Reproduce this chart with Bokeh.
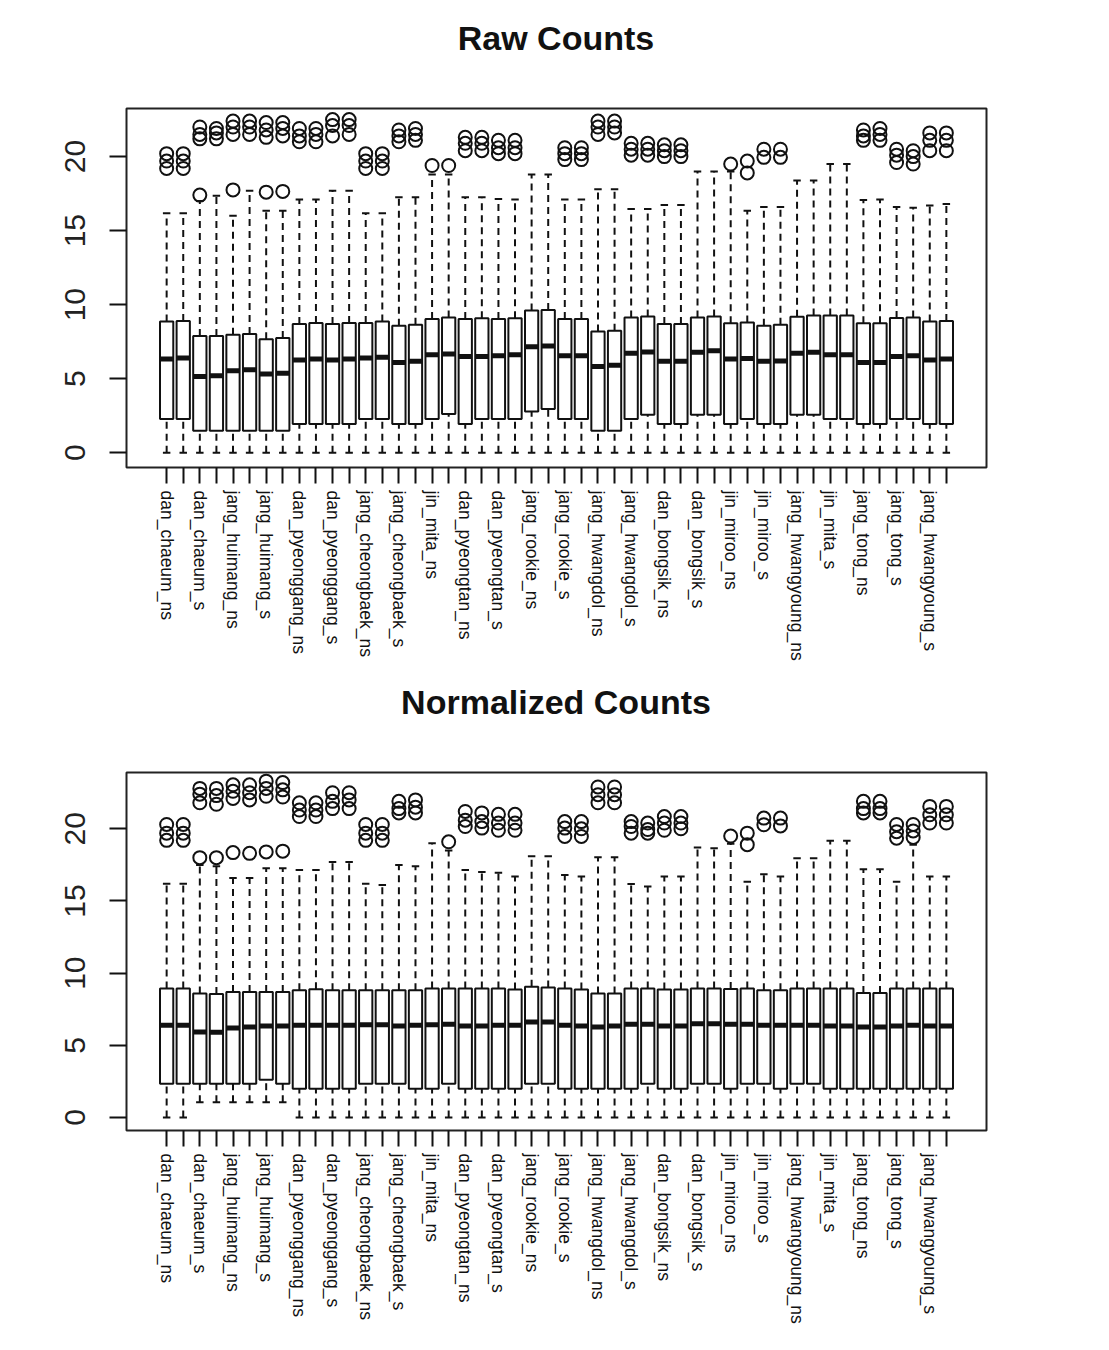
import math
from bokeh.plotting import figure
from bokeh.models import Range1d, FixedTicker, Div
from bokeh.layouts import column
from bokeh.embed import file_html
from bokeh.resources import INLINE

# ---------------- data ----------------
sample_labels = [
    "dan_chaeum_ns", "dan_chaeum_s", "jang_huimang_ns", "jang_huimang_s",
    "dan_pyeonggang_ns", "dan_pyeonggang_s", "jang_cheongbaek_ns", "jang_cheongbaek_s",
    "jin_mita_ns", "dan_pyeongtan_ns", "dan_pyeongtan_s", "jang_rookie_ns",
    "jang_rookie_s", "jang_hwangdol_ns", "jang_hwangdol_s", "dan_bongsik_ns",
    "dan_bongsik_s", "jin_miroo_ns", "jin_miroo_s", "jang_hwangyoung_ns",
    "jin_mita_s", "jang_tong_ns", "jang_tong_s", "jang_hwangyoung_s",
]
box_positions = list(range(1, 49))
y_ticks = [0, 5, 10, 15, 20]

raw_lower = [0] * 48
raw_q1 = [2.28, 2.28, 1.49, 1.49, 1.49, 1.49, 1.49, 1.49, 1.94, 1.94, 1.94, 1.94,
          2.28, 2.28, 1.94, 1.94, 2.28, 2.61, 1.94, 2.28, 2.28, 2.28, 2.79, 2.95,
          2.28, 2.28, 1.49, 1.49, 2.28, 2.57, 1.94, 1.94, 2.57, 2.57, 1.94, 2.28,
          1.94, 1.94, 2.57, 2.57, 2.28, 2.28, 1.94, 1.94, 2.28, 2.28, 1.94, 1.94]
raw_median = [6.33, 6.40, 5.14, 5.20, 5.54, 5.60, 5.32, 5.36, 6.26, 6.33, 6.26, 6.33,
              6.40, 6.44, 6.10, 6.17, 6.62, 6.67, 6.49, 6.49, 6.55, 6.62, 7.16, 7.20,
              6.55, 6.55, 5.83, 5.90, 6.71, 6.80, 6.17, 6.17, 6.78, 6.89, 6.33, 6.37,
              6.17, 6.20, 6.71, 6.78, 6.62, 6.62, 6.10, 6.10, 6.49, 6.55, 6.26, 6.33]
raw_q3 = [8.87, 8.90, 7.88, 7.88, 7.97, 8.02, 7.66, 7.75, 8.69, 8.76, 8.69, 8.76,
          8.76, 8.87, 8.58, 8.65, 9.03, 9.14, 9.03, 9.08, 9.03, 9.08, 9.60, 9.64,
          9.03, 9.03, 8.18, 8.24, 9.14, 9.20, 8.69, 8.69, 9.14, 9.20, 8.74, 8.80,
          8.58, 8.65, 9.19, 9.26, 9.26, 9.26, 8.74, 8.74, 9.10, 9.14, 8.87, 8.90]
raw_upper = [16.17, 16.17, 17.0, 17.36, 16.0, 17.7, 16.35, 16.35, 17.1, 17.1, 17.7, 17.7,
             16.17, 16.17, 17.25, 17.25, 18.8, 18.8, 17.25, 17.25, 17.14, 17.1, 18.8, 18.8,
             17.1, 17.1, 17.8, 17.8, 16.46, 16.46, 16.73, 16.73, 19.0, 19.0, 19.0, 16.35,
             16.6, 16.6, 18.38, 18.38, 19.5, 19.5, 17.07, 17.1, 16.6, 16.55, 16.7, 16.8]
raw_outliers = [
    [20.2, 19.7, 19.2], [20.2, 19.7, 19.2], [17.4, 22.0, 21.5, 21.2], [21.9, 21.6, 21.2],
    [17.75, 22.4, 22.0, 21.5], [22.4, 22.0, 21.5], [17.6, 22.3, 21.8, 21.3], [17.65, 22.3, 21.9, 21.4],
    [21.9, 21.4, 21.0], [21.9, 21.5, 21.0], [22.5, 22.1, 21.4], [22.5, 22.1, 21.5],
    [20.2, 19.7, 19.2], [20.2, 19.7, 19.2], [21.8, 21.4, 21.0], [21.9, 21.5, 21.1],
    [19.4], [19.4], [21.3, 20.9, 20.4], [21.3, 20.9, 20.4],
    [21.1, 20.6, 20.2], [21.1, 20.6, 20.2], [], [],
    [20.6, 20.2, 19.8], [20.6, 20.2, 19.8], [22.4, 22.0, 21.5], [22.4, 22.0, 21.6],
    [20.9, 20.5, 20.1], [20.9, 20.5, 20.1], [20.8, 20.4, 20.0], [20.8, 20.4, 20.0],
    [], [], [19.5], [19.7, 18.9],
    [20.5, 19.95], [20.5, 19.95], [], [],
    [], [], [21.8, 21.4, 21.1], [21.9, 21.5, 21.1],
    [20.5, 20.1, 19.6], [20.4, 20.0, 19.5], [21.6, 21.1, 20.4], [21.6, 21.1, 20.4],
]

norm_lower = [0, 0, 1.06, 1.06, 1.06, 1.06, 1.06, 1.06] + [0] * 40
norm_q1 = [2.34, 2.34, 2.34, 2.34, 2.34, 2.34, 2.62, 2.34, 1.99, 1.99, 1.99, 1.99,
           2.34, 2.34, 2.34, 1.99, 1.99, 2.34, 1.99, 1.99, 1.99, 1.99, 2.34, 2.34,
           1.99, 1.99, 1.99, 1.99, 1.99, 2.34, 1.99, 1.99, 2.34, 2.34, 1.99, 2.34,
           2.34, 1.99, 2.34, 2.34, 1.99, 1.99, 1.99, 1.99, 1.99, 1.99, 1.99, 1.99]
norm_median = [6.39, 6.39, 5.92, 5.90, 6.20, 6.27, 6.34, 6.34, 6.39, 6.39, 6.39, 6.39,
               6.43, 6.43, 6.34, 6.39, 6.43, 6.46, 6.34, 6.34, 6.39, 6.39, 6.62, 6.62,
               6.39, 6.34, 6.27, 6.34, 6.46, 6.46, 6.34, 6.34, 6.50, 6.50, 6.46, 6.46,
               6.39, 6.39, 6.39, 6.39, 6.34, 6.34, 6.27, 6.27, 6.34, 6.39, 6.34, 6.34]
norm_q3 = [8.94, 8.94, 8.59, 8.55, 8.70, 8.70, 8.70, 8.70, 8.82, 8.89, 8.82, 8.82,
           8.82, 8.82, 8.82, 8.82, 8.94, 8.94, 8.94, 8.94, 8.94, 8.87, 9.05, 9.00,
           8.94, 8.87, 8.59, 8.59, 8.94, 8.94, 8.87, 8.87, 8.94, 8.94, 8.90, 8.94,
           8.82, 8.82, 8.94, 8.94, 8.94, 8.94, 8.63, 8.63, 8.94, 8.94, 8.94, 8.94]
norm_upper = [16.2, 16.2, 17.5, 17.4, 16.6, 16.6, 17.27, 17.27, 17.15, 17.15, 17.7, 17.7,
              16.2, 16.1, 17.5, 17.4, 19.0, 18.5, 17.15, 17.0, 16.95, 16.7, 18.1, 18.1,
              16.8, 16.7, 18.03, 18.03, 16.18, 16.0, 16.7, 16.7, 18.7, 18.65, 18.96, 16.34,
              16.85, 16.7, 17.96, 17.96, 19.17, 19.17, 17.2, 17.2, 16.34, 18.9, 16.7, 16.7]
norm_outliers = [
    [20.3, 19.7, 19.2], [20.3, 19.7, 19.2], [18.0, 22.8, 22.4, 21.8], [18.0, 22.8, 22.3, 21.7],
    [18.35, 23.05, 22.6, 22.1], [18.3, 23.05, 22.5, 22.0], [18.4, 23.3, 22.8, 22.25], [18.45, 23.2, 22.7, 22.2],
    [21.8, 21.3, 20.85], [21.8, 21.3, 20.85], [22.5, 21.9, 21.4], [22.5, 22.0, 21.4],
    [20.3, 19.7, 19.2], [20.3, 19.7, 19.2], [21.9, 21.4, 21.1], [22.0, 21.5, 21.1],
    [], [19.1], [21.2, 20.6, 20.16], [21.1, 20.5, 20.05],
    [21.0, 20.4, 19.9], [21.0, 20.4, 19.9], [], [],
    [20.5, 20.05, 19.47], [20.5, 20.0, 19.47], [22.9, 22.36, 21.8], [22.9, 22.36, 21.8],
    [20.5, 20.16, 19.7], [20.4, 19.95, 19.7], [20.85, 20.4, 19.9], [20.85, 20.4, 20.0],
    [], [], [19.5], [19.7, 18.9],
    [20.74, 20.28], [20.74, 20.2], [], [],
    [], [], [21.9, 21.4, 21.1], [21.9, 21.4, 21.1],
    [20.3, 19.8, 19.35], [20.3, 19.85, 19.4], [21.55, 20.97, 20.4], [21.55, 20.97, 20.4],
]

# ---------------- drawing ----------------
BOX_W = 0.8
CAP_W = 0.45
FONT = "Liberation Sans"
FIG_W = 1101


def make_title(text):
    html = ('<div style="font-family: \'Liberation Sans\', Arial, sans-serif; '
            'font-weight: bold; font-size: 34px; color: #111111; text-align: center; '
            'width: %dpx; padding-top: 18px; padding-left: 11px; box-sizing: border-box; '
            'line-height: 40px; white-space: nowrap;">%s</div>' % (FIG_W, text))
    return Div(text=html, width=FIG_W, height=68, margin=0)


def make_plot(lower, q1, med, q3, upper, outliers, y_rng, height, border_bottom):
    p = figure(width=FIG_W, height=height,
               x_range=Range1d(-1.42, 50.42), y_range=Range1d(*y_rng),
               output_backend="svg", toolbar_location=None,
               min_border_left=126, min_border_right=115,
               min_border_top=40, min_border_bottom=border_bottom)
    p.background_fill_color = "white"
    p.border_fill_color = "white"
    p.outline_line_color = "#222222"
    p.outline_line_width = 2
    p.xgrid.visible = False
    p.ygrid.visible = False

    x = box_positions
    # whiskers (dashed)
    p.segment(x0=x, y0=q3, x1=x, y1=upper, line_color="#111111", line_width=2, line_dash="7 5")
    p.segment(x0=x, y0=lower, x1=x, y1=q1, line_color="#111111", line_width=2, line_dash="7 5")
    # staples
    xl = [v - CAP_W / 2 for v in x]
    xr = [v + CAP_W / 2 for v in x]
    p.segment(x0=xl, y0=upper, x1=xr, y1=upper, line_color="#111111", line_width=2)
    p.segment(x0=xl, y0=lower, x1=xr, y1=lower, line_color="#111111", line_width=2)
    # boxes
    p.vbar(x=x, bottom=q1, top=q3, width=BOX_W, fill_color="white",
           line_color="#111111", line_width=2)
    # medians
    ml = [v - BOX_W / 2 for v in x]
    mr = [v + BOX_W / 2 for v in x]
    p.segment(x0=ml, y0=med, x1=mr, y1=med, line_color="#111111", line_width=5)
    # outliers
    ox, oy = [], []
    for xi, vals in zip(x, outliers):
        for v in vals:
            ox.append(xi)
            oy.append(v)
    p.scatter(ox, oy, marker="circle", size=13, fill_color=None,
              line_color="#111111", line_width=2)

    # x axis
    xa = p.xaxis[0]
    xa.ticker = FixedTicker(ticks=box_positions)
    xa.major_label_overrides = {
        pos: (sample_labels[(pos - 1) // 2] if pos % 2 == 1 else "") for pos in box_positions
    }
    xa.major_label_orientation = -math.pi / 2
    xa.major_label_text_font = FONT
    xa.major_label_text_font_size = "17.5px"
    xa.major_label_text_color = "#111111"
    xa.major_label_standoff = 7
    xa.major_tick_out = 16
    xa.major_tick_in = 0
    xa.major_tick_line_width = 2
    xa.major_tick_line_color = "#111111"
    xa.minor_tick_line_color = None
    xa.axis_line_color = None

    ya = p.yaxis[0]
    ya.ticker = FixedTicker(ticks=y_ticks)
    ya.major_label_orientation = "vertical"
    ya.major_label_text_font = FONT
    ya.major_label_text_font_size = "30px"
    ya.major_label_text_color = "#222222"
    ya.major_label_standoff = 24
    ya.major_tick_out = 17
    ya.major_tick_in = 0
    ya.major_tick_line_width = 2
    ya.major_tick_line_color = "#111111"
    ya.minor_tick_line_color = None
    ya.axis_line_color = None
    return p


t1 = make_title("Raw Counts")
p1 = make_plot(raw_lower, raw_q1, raw_median, raw_q3, raw_upper,
               raw_outliers, (-1.0, 23.25), 596, 197)
t2 = make_title("Normalized Counts")
p2 = make_plot(norm_lower, norm_q1, norm_median, norm_q3, norm_upper,
               norm_outliers, (-0.9, 23.9), 603, 205)

layout = column(t1, p1, t2, p2, spacing=0)
open("out.html", "w").write(file_html(layout, INLINE))
